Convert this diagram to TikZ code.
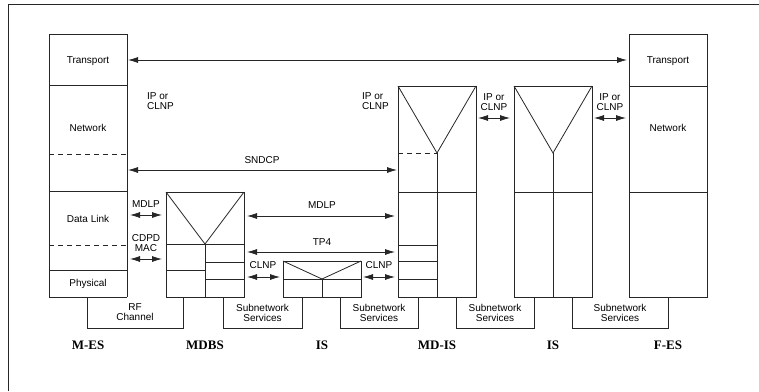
\documentclass[tikz,border=0pt]{standalone}
\usepackage{fontspec}
\setmainfont{Liberation Sans}
\newfontfamily\labfont{Liberation Serif}
\usetikzlibrary{arrows.meta}
\tikzset{
  ln/.style={line width=0.8pt, draw=black!85},
  dsh/.style={ln, dash pattern=on 5pt off 4pt},
  stack/.style={ln, rectangle, inner sep=0pt, outer sep=0pt},
  txt/.style={font=\fontsize{10}{10.5}\selectfont, align=center, inner sep=0pt},
  ltxt/.style={font=\fontsize{10}{10.5}\selectfont, align=left, inner sep=0pt, anchor=north west},
  lab/.style={font=\labfont\bfseries\fontsize{13}{15}\selectfont, inner sep=0pt},
  biarrow/.style={ln, {Latex[length=10pt,width=6pt]}-{Latex[length=10pt,width=6pt]}}
}
\begin{document}
\begin{tikzpicture}[x=1pt,y=-1pt]
\useasboundingbox (0,0) rectangle (759,391);
\draw[ln] (8,391) -- (8,4) -- (759,4);

% M-ES
\node[stack, draw, minimum width=78pt, minimum height=263pt] (mes) at (88,165.5) {};
\draw[ln] (49,85) -- (127,85);
\draw[dsh] (49,154) -- (127,154);
\draw[ln] (49,191) -- (127,191);
\draw[dsh] (49,245) -- (127,245);
\draw[ln] (49,270) -- (127,270);
\node[txt] (mesT) at (88,61) {Transport};
\node[txt] (mesN) at (88,128) {Network};
\node[txt] (mesD) at (88,219) {Data Link};
\node[txt] (mesP) at (88,284) {Physical};
\node[stack, draw, minimum width=96pt, minimum height=31pt] (rf) at (135,312.5) {};
\draw[draw=white, line width=1pt] (87.8,297) -- (182.2,297);
\draw[ln] (87,297) -- (127,297);
\node[txt] (rft) at (135,312) {RF\\Channel};

% MDBS
\node[stack, draw, minimum width=78pt, minimum height=105pt] (mdbs) at (205,244.5) {};
\draw[ln] (166,192) -- (205,244) -- (244,192);
\draw[ln] (166,244) -- (244,244);
\draw[ln] (205,244) -- (205,297);
\draw[ln] (166,270) -- (205,270);
\draw[ln] (205,262) -- (244,262);
\draw[ln] (205,279) -- (244,279);
\draw[ln] (223,297) -- (223,328) -- (302,328) -- (302,297);
\node[txt] (ss1) at (262.5,313) {Subnetwork\\Services};

% IS (small)
\node[stack, draw, minimum width=78pt, minimum height=36pt] (is1) at (322,279) {};
\draw[ln] (283,261) -- (322,279) -- (361,261);
\draw[ln] (283,279) -- (361,279);
\draw[ln] (322,279) -- (322,297);
\draw[ln] (340,297) -- (340,328) -- (418,328) -- (418,297);
\node[txt] (ss2) at (379,313) {Subnetwork\\Services};

% MD-IS
\node[stack, draw, minimum width=78pt, minimum height=211pt] (mdis) at (437,191.5) {};
\draw[ln] (398,86) -- (437,153) -- (476,86);
\draw[dsh] (398,153) -- (437,153);
\draw[ln] (437,153) -- (437,297);
\draw[ln] (398,192) -- (476,192);
\draw[ln] (398,245) -- (437,245);
\draw[ln] (398,261) -- (437,261);
\draw[ln] (398,279) -- (437,279);
\draw[ln] (456,297) -- (456,328) -- (534,328) -- (534,297);
\node[txt] (ss3) at (495,313) {Subnetwork\\Services};

% IS (right)
\node[stack, draw, minimum width=78pt, minimum height=211pt] (is2) at (553,191.5) {};
\draw[ln] (514,86) -- (553,153) -- (592,86);
\draw[ln] (553,153) -- (553,297);
\draw[ln] (514,192) -- (592,192);
\draw[ln] (572,297) -- (572,328) -- (668,328) -- (668,297);
\node[txt] (ss4) at (620,313) {Subnetwork\\Services};

% F-ES
\node[stack, draw, minimum width=78pt, minimum height=263pt] (fes) at (668,165.5) {};
\draw[ln] (629,86) -- (707,86);
\draw[ln] (629,192) -- (707,192);
\node[txt] (fesT) at (668,61) {Transport};
\node[txt] (fesN) at (668,128) {Network};

% arrows
\coordinate (tA) at (128,60); \coordinate (tB) at (627,60);
\draw[biarrow] (tA) -- (tB);
\coordinate (sA) at (128,170); \coordinate (sB) at (397,170);
\draw[biarrow] (sA) -- (sB);
\node[txt] (sndcp) at (262,160) {SNDCP};

\coordinate (m1A) at (130,215); \coordinate (m1B) at (162,215);
\draw[biarrow] (m1A) -- (m1B);
\node[txt] (mdlp1) at (146,204) {MDLP};
\coordinate (c1A) at (130,259); \coordinate (c1B) at (162,259);
\draw[biarrow] (c1A) -- (c1B);
\node[txt] (cdpd) at (146,243) {CDPD\\MAC};

\coordinate (m2A) at (247,216); \coordinate (m2B) at (395,216);
\draw[biarrow] (m2A) -- (m2B);
\node[txt] (mdlp2) at (322,205) {MDLP};
\coordinate (tp4A) at (247,252); \coordinate (tp4B) at (395,252);
\draw[biarrow] (tp4A) -- (tp4B);
\node[txt] (tp4) at (322,242) {TP4};

\coordinate (cl1A) at (247,277); \coordinate (cl1B) at (280,277);
\draw[biarrow] (cl1A) -- (cl1B);
\node[txt] (clnp1) at (263,265) {CLNP};
\coordinate (cl2A) at (363,277); \coordinate (cl2B) at (395,277);
\draw[biarrow] (cl2A) -- (cl2B);
\node[txt] (clnp2) at (379,265) {CLNP};

\coordinate (ip1A) at (478,118); \coordinate (ip1B) at (510,118);
\draw[biarrow] (ip1A) -- (ip1B);
\node[txt] (ip1) at (494,102) {IP or\\CLNP};
\coordinate (ip2A) at (594,118); \coordinate (ip2B) at (626,118);
\draw[biarrow] (ip2A) -- (ip2B);
\node[txt] (ip2) at (610,102) {IP or\\CLNP};

\node[ltxt] (ip3) at (147,92) {IP or\\CLNP};
\node[ltxt] (ip4) at (362,92) {IP or\\CLNP};

% station labels
\node[lab] (l1) at (88,345) {M-ES};
\node[lab] (l2) at (205,345) {MDBS};
\node[lab] (l3) at (322,345) {IS};
\node[lab] (l4) at (437,345) {MD-IS};
\node[lab] (l5) at (553,345) {IS};
\node[lab] (l6) at (668,345) {F-ES};
\end{tikzpicture}
\end{document}
